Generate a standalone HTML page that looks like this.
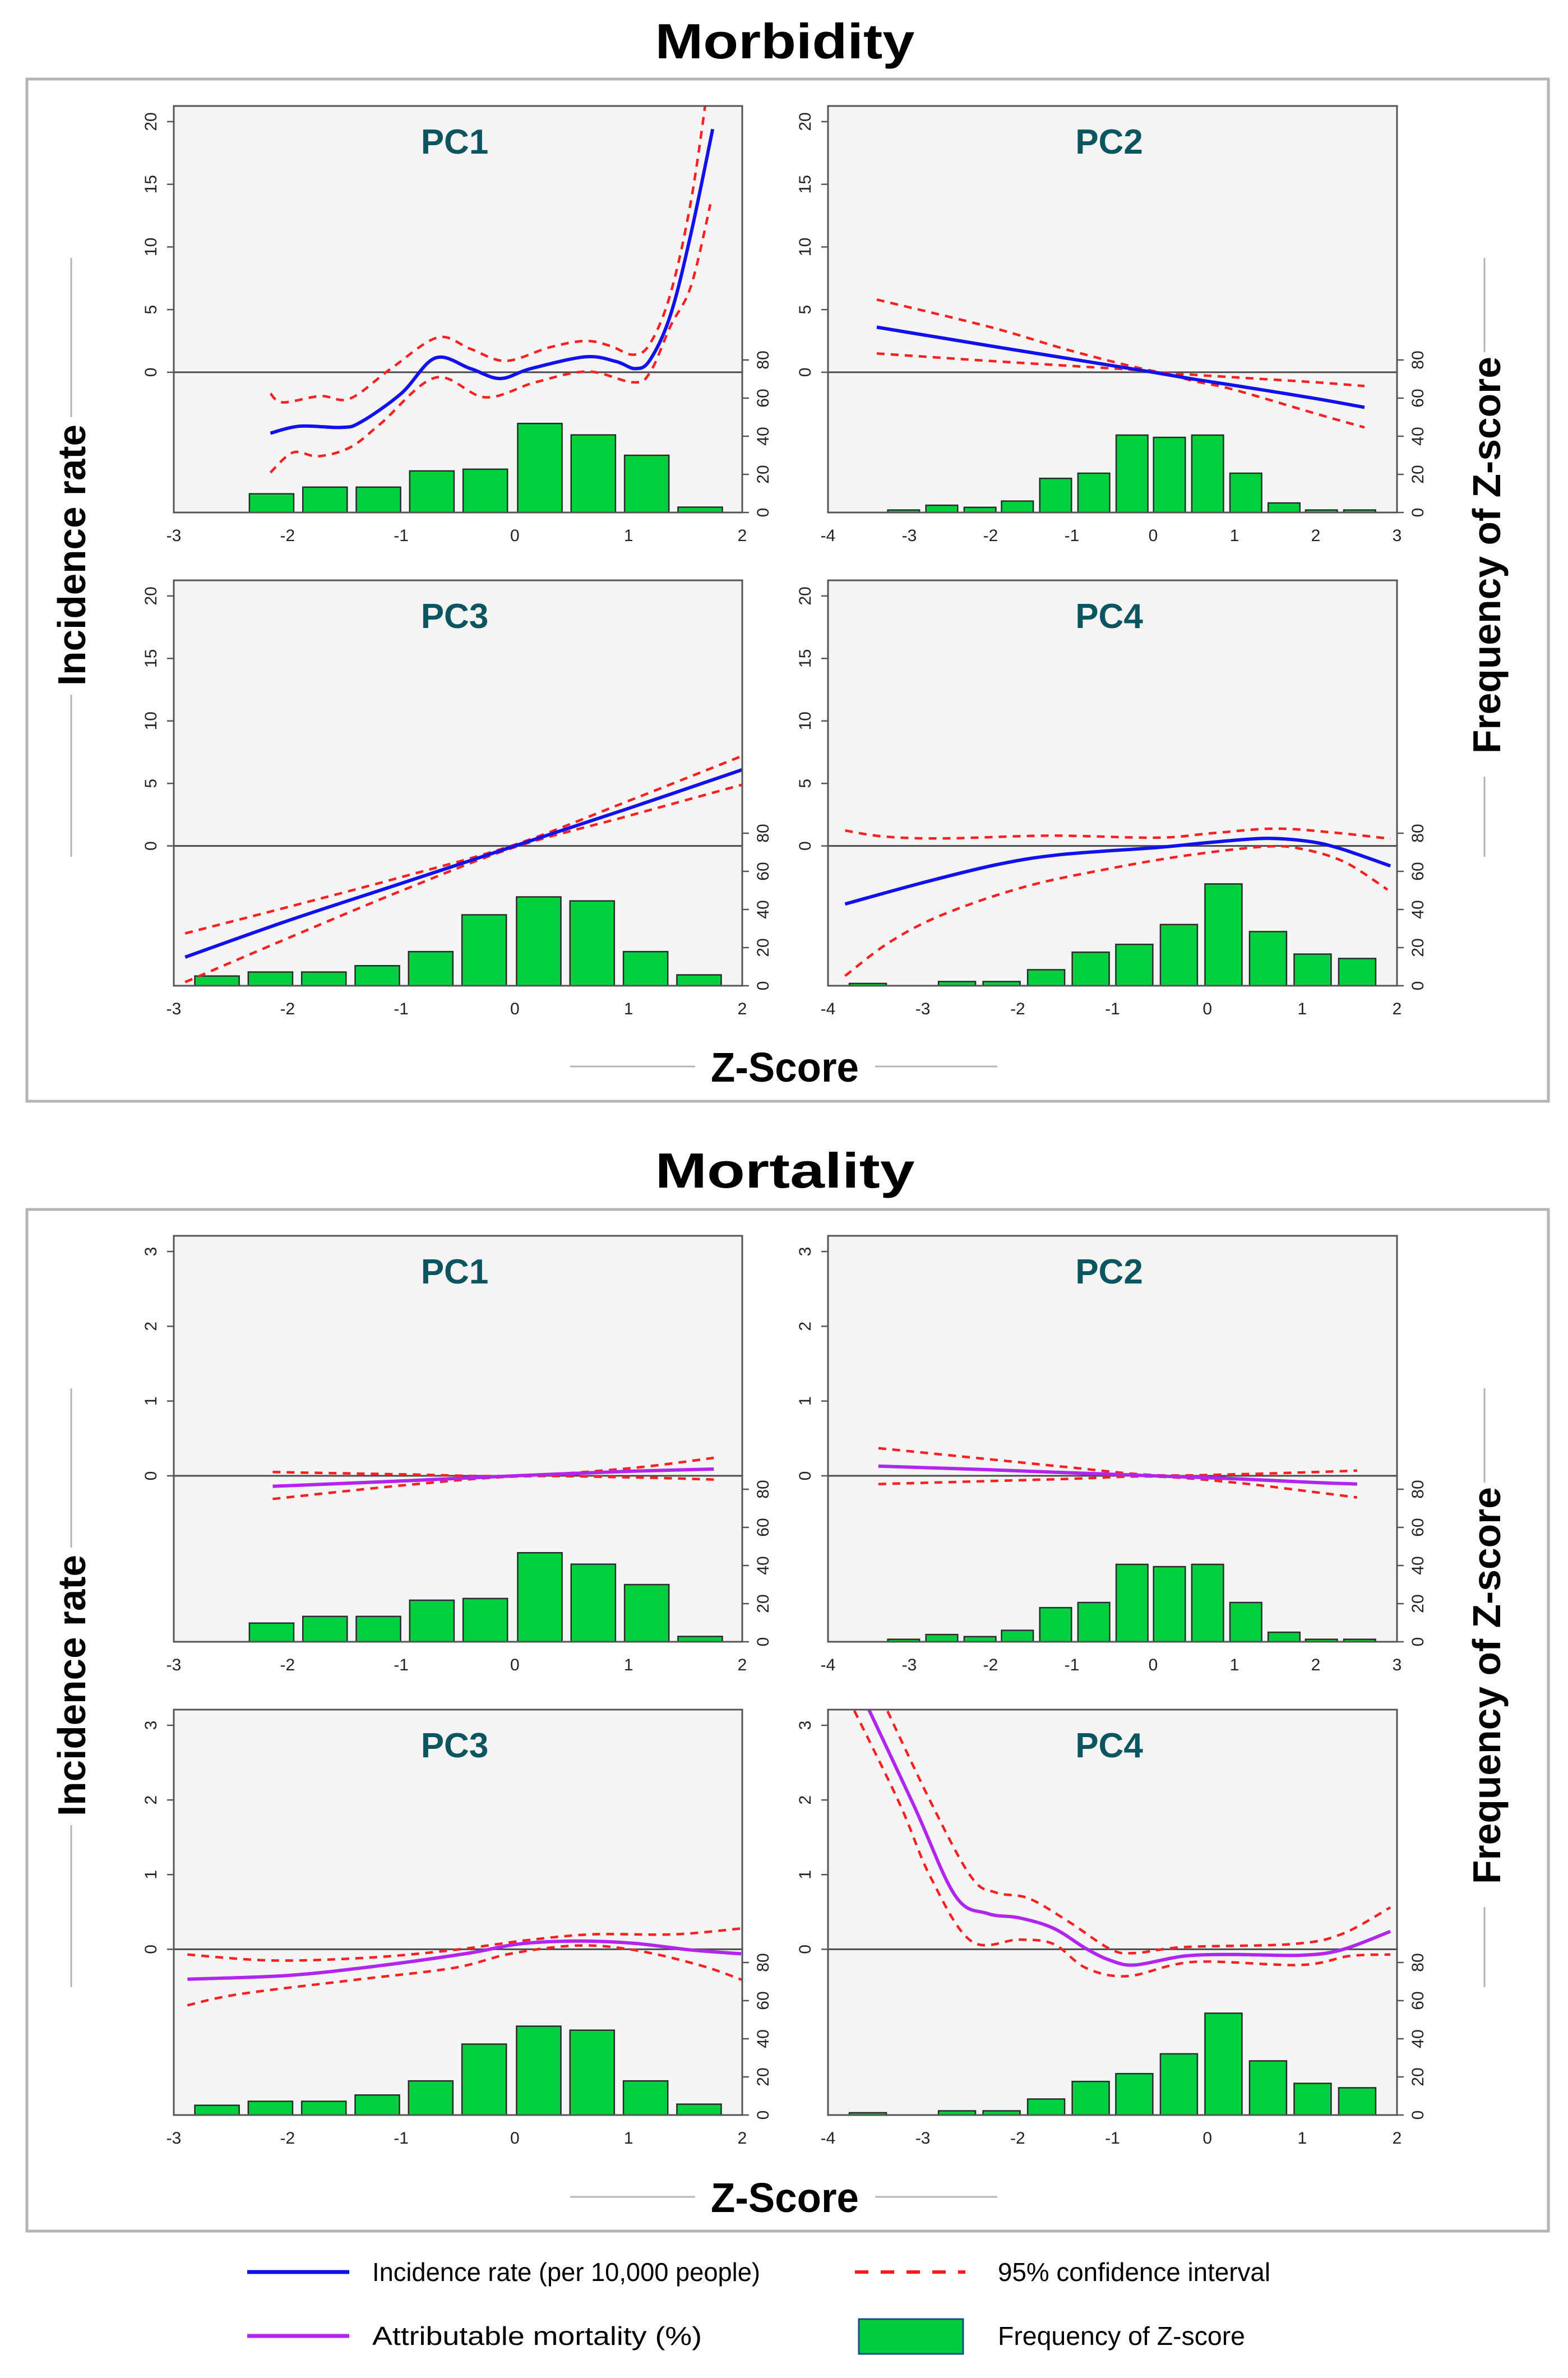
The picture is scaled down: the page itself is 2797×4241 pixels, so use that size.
<!DOCTYPE html>
<html><head><meta charset="utf-8"><style>
html,body{margin:0;padding:0;background:#fff}
svg{display:block}
text{font-family:"Liberation Sans",Arial,sans-serif}
</style></head><body>
<svg id="fig" xmlns="http://www.w3.org/2000/svg" width="2797" height="4241" viewBox="0 0 2797 4241">
<rect x="0" y="0" width="2797" height="4241" fill="#fff"/>
<!-- Section frames -->
<rect x="48" y="141" width="2714" height="1823" fill="none" stroke="#b4b4b4" stroke-width="5"/>
<rect x="48" y="2157" width="2714" height="1822" fill="none" stroke="#b4b4b4" stroke-width="5"/>
<text x="1400" y="104" text-anchor="middle" font-size="88" font-weight="bold" textLength="463" lengthAdjust="spacingAndGlyphs">Morbidity</text>
<text x="1400" y="2118" text-anchor="middle" font-size="88" font-weight="bold" textLength="463" lengthAdjust="spacingAndGlyphs">Mortality</text>
<g id="panels"></g>
<!-- axis titles -->
<g>
<line x1="1017" y1="1902" x2="1240" y2="1902" stroke="#b4b4b4" stroke-width="3"/>
<line x1="1561" y1="1902" x2="1779" y2="1902" stroke="#b4b4b4" stroke-width="3"/>
<text x="1400" y="1929" text-anchor="middle" font-size="74" font-weight="bold" textLength="264" lengthAdjust="spacingAndGlyphs">Z-Score</text>
<line x1="127" y1="460" x2="127" y2="744" stroke="#b4b4b4" stroke-width="3"/>
<line x1="127" y1="1239" x2="127" y2="1528" stroke="#b4b4b4" stroke-width="3"/>
<text transform="translate(152,990) rotate(-90)" text-anchor="middle" font-size="70" font-weight="bold" textLength="466" lengthAdjust="spacingAndGlyphs">Incidence rate</text>
<line x1="2648" y1="460" x2="2648" y2="628" stroke="#b4b4b4" stroke-width="3"/>
<line x1="2648" y1="1385" x2="2648" y2="1528" stroke="#b4b4b4" stroke-width="3"/>
<text transform="translate(2676,990) rotate(-90)" text-anchor="middle" font-size="70" font-weight="bold" textLength="708" lengthAdjust="spacingAndGlyphs">Frequency of Z-score</text>
</g>
<g>
<line x1="1017" y1="3918" x2="1240" y2="3918" stroke="#b4b4b4" stroke-width="3"/>
<line x1="1561" y1="3918" x2="1779" y2="3918" stroke="#b4b4b4" stroke-width="3"/>
<text x="1400" y="3945" text-anchor="middle" font-size="74" font-weight="bold" textLength="264" lengthAdjust="spacingAndGlyphs">Z-Score</text>
<line x1="127" y1="2476" x2="127" y2="2760" stroke="#b4b4b4" stroke-width="3"/>
<line x1="127" y1="3255" x2="127" y2="3544" stroke="#b4b4b4" stroke-width="3"/>
<text transform="translate(152,3006) rotate(-90)" text-anchor="middle" font-size="70" font-weight="bold" textLength="466" lengthAdjust="spacingAndGlyphs">Incidence rate</text>
<line x1="2648" y1="2476" x2="2648" y2="2644" stroke="#b4b4b4" stroke-width="3"/>
<line x1="2648" y1="3401" x2="2648" y2="3544" stroke="#b4b4b4" stroke-width="3"/>
<text transform="translate(2676,3006) rotate(-90)" text-anchor="middle" font-size="70" font-weight="bold" textLength="708" lengthAdjust="spacingAndGlyphs">Frequency of Z-score</text>
</g>
<!-- legend -->
<g>
<g>
<line x1="441" y1="4052" x2="623" y2="4052" stroke="#1010e8" stroke-width="7"/>
<text x="664" y="4068" font-size="46" textLength="692" lengthAdjust="spacingAndGlyphs">Incidence rate (per 10,000 people)</text>
</g>
<g>
<line x1="1525" y1="4052" x2="1722" y2="4052" stroke="#ff1a1a" stroke-width="6" stroke-dasharray="24,22"/>
<text x="1780" y="4068" font-size="46" textLength="486" lengthAdjust="spacingAndGlyphs">95% confidence interval</text>
</g>
<g>
<line x1="441" y1="4166" x2="623" y2="4166" stroke="#b026f0" stroke-width="7"/>
<text x="664" y="4182" font-size="46" textLength="588" lengthAdjust="spacingAndGlyphs">Attributable mortality (%)</text>
</g>
<g>
<rect x="1532" y="4136" width="186" height="62" fill="#00cc3f" stroke="#1a4d8a" stroke-width="3"/>
<text x="1780" y="4182" font-size="46" textLength="441" lengthAdjust="spacingAndGlyphs">Frequency of Z-score</text>
</g>
</g>
</svg>
<script>
// ---- data ----
const histCentersPC1 = [-2.14,-1.67,-1.20,-0.73,-0.26,0.22,0.69,1.16,1.63];
const histValuesPC1 = [9.8,13.3,13.3,21.8,22.7,46.7,40.7,30,2.8];
const histCentersPC2 = [-3.07,-2.60,-2.13,-1.67,-1.20,-0.73,-0.26,0.20,0.67,1.14,1.61,2.07,2.54];
const histValuesPC2 = [1.3,3.8,2.7,6,17.9,20.6,40.6,39.4,40.6,20.6,5,1.3,1.3];
const histCentersPC3 = [-2.62,-2.15,-1.68,-1.21,-0.74,-0.27,0.21,0.68,1.15,1.62];
const histValuesPC3 = [5.1,7.2,7.2,10.5,17.9,37.2,46.6,44.5,17.9,5.7];
const histCentersPC4 = [-3.58,-3.11,-2.64,-2.17,-1.70,-1.23,-0.77,-0.30,0.17,0.64,1.11,1.58];
const histValuesPC4 = [1.2,0,2.2,2.2,8.4,17.6,21.7,32.1,53.4,28.4,16.6,14.3];

const morbYTicks = [0,5,10,15,20];
const mortYTicks = [0,1,2,3];
const histTicks = [0,20,40,60,80];
const xTicks3 = [-3,-2,-1,0,1,2];
const xTicks4a = [-4,-3,-2,-1,0,1,2,3];
const xTicks4b = [-4,-3,-2,-1,0,1,2];

// morbidity PC1
const mb1X = [-2.15,-1.89,-1.53,-1.36,-1.0,-0.70,-0.39,-0.13,0.14,0.62,0.89,1.06,1.19,1.37,1.55,1.74];
const mb1Fit = [-4.86,-4.3,-4.4,-4.0,-1.7,1.14,0.29,-0.5,0.29,1.23,0.86,0.29,1.0,4.6,11.1,19.4];
const mb1UX = [-2.15,-2.04,-1.71,-1.45,-1.09,-0.68,-0.39,-0.08,0.31,0.62,0.84,1.04,1.19,1.37,1.55,1.70];
const mb1Up = [-1.7,-2.4,-1.9,-2.1,0.29,2.77,1.86,0.91,2.0,2.5,2.1,1.4,2.3,6.3,13.7,23.0];
const mb1LX = [-2.15,-1.95,-1.73,-1.45,-1.18,-0.70,-0.26,0.18,0.64,1.04,1.19,1.37,1.55,1.72];
const mb1Lo = [-8.0,-6.4,-6.7,-6.0,-4.1,-0.43,-2.0,-0.8,0.06,-0.8,0,3.7,6.9,13.4];
// morbidity PC2
const mb2X = [-3.4,-2,-1,0,0.5,1,2,2.6];
const mb2Fit = [3.6,2.1,1.05,0,-0.55,-1.05,-2.1,-2.8];
const mb2Up = [5.8,3.6,1.7,0.1,-0.2,-0.4,-0.8,-1.1];
const mb2Lo = [1.5,0.9,0.5,0.05,-0.7,-1.4,-3.3,-4.4];
// morbidity PC3
const mb3X = [-2.9,-2,-1,0,1,2];
const mb3Fit = [-8.9,-6.0,-3.0,0,3.0,6.1];
const mb3Up = [-7.0,-4.9,-2.5,0.1,3.6,7.2];
const mb3Lo = [-10.9,-7.4,-3.6,-0.1,2.4,4.9];
// morbidity PC4
const mb4X = [-3.82,-3.01,-2.22,-1.55,-0.53,0.03,0.6,1.05,1.39,1.93];
const mb4Fit = [-4.65,-2.96,-1.5,-0.7,-0.13,0.28,0.6,0.38,-0.19,-1.6];
const mb4UX = [-3.82,-3.41,-2.79,-1.66,-0.53,0.03,0.71,1.33,1.93];
const mb4Up = [1.23,0.75,0.6,0.82,0.66,1.0,1.38,1.07,0.57];
const mb4LX = [-3.82,-3.35,-2.79,-1.94,-1.09,-0.25,0.6,1.0,1.45,1.9];
const mb4Lo = [-10.4,-7.7,-5.5,-3.3,-1.9,-0.8,-0.06,-0.25,-1.3,-3.5];

// mortality PC1
const mt1X = [-2.13,-1,0,1,1.75];
const mt1Fit = [-0.14,-0.07,0,0.06,0.09];
const mt1Up = [0.05,0.02,0,0.1,0.24];
const mt1Lo = [-0.31,-0.13,-0.01,-0.02,-0.05];
// mortality PC2
const mt2X = [-3.38,-2,-1,0,1,2,2.51];
const mt2Fit = [0.13,0.08,0.04,0,-0.04,-0.09,-0.11];
const mt2Up = [0.37,0.22,0.11,0.01,0.02,0.05,0.07];
const mt2Lo = [-0.11,-0.07,-0.04,-0.01,-0.09,-0.22,-0.29];
// mortality PC3
const mt3X = [-2.88,-1.99,-1.19,-0.40,0.03,0.54,1.05,1.55,1.99];
const mt3Fit = [-0.40,-0.35,-0.22,-0.05,0.07,0.11,0.08,-0.01,-0.06];
const mt3UX = [-2.88,-2.13,-1.27,-0.54,0.1,0.68,1.4,2.0];
const mt3Up = [-0.07,-0.15,-0.11,-0.01,0.12,0.2,0.2,0.28];
const mt3LX = [-2.88,-2.42,-1.41,-0.54,-0.04,0.54,1.05,1.62,2.0];
const mt3Lo = [-0.75,-0.6,-0.41,-0.25,-0.06,0.05,-0.01,-0.21,-0.41];
// mortality PC4
const mt4X = [-3.75,-3.1,-2.66,-2.32,-1.98,-1.62,-1.28,-1.02,-0.76,-0.24,0.28,0.98,1.41,1.93];
const mt4Fit = [3.7,1.94,0.72,0.48,0.42,0.28,0.01,-0.15,-0.21,-0.09,-0.07,-0.08,-0.01,0.24];
const mt4UX = [-3.56,-2.92,-2.49,-2.23,-1.88,-1.45,-1.02,-0.76,-0.24,0.89,1.41,1.93];
const mt4Up = [3.7,1.98,0.97,0.76,0.68,0.36,0,-0.05,0.03,0.07,0.2,0.56];
const mt4LX = [-3.92,-3.27,-2.92,-2.49,-1.98,-1.62,-1.28,-0.84,-0.15,0.98,1.5,1.93];
const mt4Lo = [3.7,2.02,0.97,0.11,0.13,0.07,-0.25,-0.36,-0.17,-0.21,-0.09,-0.07];

// ---- drawing ----
const NS = "http://www.w3.org/2000/svg";
const root = document.getElementById('panels');
function mk(tag, attrs, parent){
  const e = document.createElementNS(NS, tag);
  for (const k in attrs) e.setAttribute(k, attrs[k]);
  parent.appendChild(e);
  return e;
}
function smoothPath(xs, ys, sx, sy){
  const p = xs.map((x,i)=>[sx(x), sy(ys[i])]);
  let d = 'M' + p[0][0].toFixed(1) + ',' + p[0][1].toFixed(1);
  for (let i=0;i<p.length-1;i++){
    const p0 = p[i-1]||p[i], p1=p[i], p2=p[i+1], p3=p[i+2]||p[i+1];
    const c1x = p1[0]+(p2[0]-p0[0])/6, c1y = p1[1]+(p2[1]-p0[1])/6;
    const c2x = p2[0]-(p3[0]-p1[0])/6, c2y = p2[1]-(p3[1]-p1[1])/6;
    d += ' C'+c1x.toFixed(1)+','+c1y.toFixed(1)+' '+c2x.toFixed(1)+','+c2y.toFixed(1)+' '+p2[0].toFixed(1)+','+p2[1].toFixed(1);
  }
  return d;
}
let clipId = 0;
function panel(cfg){
  const g = mk('g', {}, root);
  
  
  const {x0,y0,w,h,xmin,xmax,ymin,ymax} = cfg;
  const sx = v => x0 + (v-xmin)/(xmax-xmin)*w;
  const sy = v => y0 + (ymax-v)/(ymax-ymin)*h;
  const hs = v => y0 + h - v*3.4;
  const bg = mk('rect', {x:x0,y:y0,width:w,height:h,fill:'#f5f5f5'}, g);
  
  
  const cid = 'clip'+(clipId++);
  const cp = mk('clipPath', {id:cid}, g);
  mk('rect', {x:x0,y:y0,width:w,height:h}, cp);
  // bars
  cfg.centers.forEach((c,i)=>{
    const v = cfg.values[i];
    if (v<=0) return;
    const b = mk('rect', {x:sx(c-0.195), y:hs(v), width:sx(c+0.195)-sx(c-0.195), height:v*3.4, fill:'#00cf40', stroke:'#2a2a2a', 'stroke-width':2.5}, g);
    
    
  });
  // zero line
  const zl = mk('line', {x1:x0,x2:x0+w,y1:sy(0),y2:sy(0),stroke:'#4a4a4a','stroke-width':3}, g);
  
  
  const cg = mk('g', {'clip-path':'url(#'+cid+')'}, g);
  cfg.ci.forEach(c=>{
    const p = mk('path', {d:smoothPath(c[0],c[1],sx,sy),fill:'none',stroke:'#ff2020','stroke-width':4.5,'stroke-dasharray':'14,11'}, cg);
    
    
  });
  const f = mk('path', {d:smoothPath(cfg.fitX,cfg.fit,sx,sy),fill:'none',stroke:cfg.color,'stroke-width':6}, cg);
  
  
  // border
  mk('rect', {x:x0,y:y0,width:w,height:h,fill:'none',stroke:'#555','stroke-width':3}, g);
  // title
  const t = mk('text', {x:x0+w/2-6, y:y0+85, 'text-anchor':'middle','font-size':62,'font-weight':'bold',fill:'#0a5560'}, g);
  
  
  t.textContent = cfg.title;
  // left y axis
  cfg.yticks.forEach(v=>{
    mk('line', {x1:x0-12,x2:x0,y1:sy(v),y2:sy(v),stroke:'#555','stroke-width':2.5}, g);
    const l = mk('text', {transform:'translate('+(x0-31)+','+sy(v)+') rotate(-90)','text-anchor':'middle','font-size':30,fill:'#222'}, g);
    
    
    l.textContent = v;
  });
  // right hist axis
  mk('line', {x1:x0+w,x2:x0+w,y1:hs(0),y2:hs(80),stroke:'#555','stroke-width':2.5}, g);
  histTicks.forEach(v=>{
    mk('line', {x1:x0+w,x2:x0+w+12,y1:hs(v),y2:hs(v),stroke:'#555','stroke-width':2.5}, g);
    const l = mk('text', {transform:'translate('+(x0+w+47)+','+hs(v)+') rotate(-90)','text-anchor':'middle','font-size':30,fill:'#222'}, g);
    
    
    l.textContent = v;
  });
  // x axis labels
  cfg.xticks.forEach(v=>{
    const l = mk('text', {x:sx(v), y:y0+h+51, 'text-anchor':'middle','font-size':30,fill:'#222'}, g);
    
    
    l.textContent = v;
  });
}
const MB = {ymin:-11.19, ymax:21.25};
const MT = {ymin:-2.22, ymax:3.21};
const BLUE = '#1010f0', PURPLE = '#b026f0';
const rows = [[189,725],[1035,723],[2204,724],[3049,723]];
const cols = [[310,1014],[1477,1015]];
function P(name,title,row,col,xmin,xmax,yr,yticks,xticks,centers,values,fitX,fit,ci,color){
  panel({name,title,x0:cols[col][0],w:cols[col][1],y0:rows[row][0],h:rows[row][1],xmin,xmax,ymin:yr.ymin,ymax:yr.ymax,yticks,xticks,centers,values,fitX,fit,ci,color});
}
P('morbidity-pc1','PC1',0,0,-3,2,MB,morbYTicks,xTicks3,histCentersPC1,histValuesPC1,mb1X,mb1Fit,[[mb1UX,mb1Up],[mb1LX,mb1Lo]],BLUE);
P('morbidity-pc2','PC2',0,1,-4,3,MB,morbYTicks,xTicks4a,histCentersPC2,histValuesPC2,mb2X,mb2Fit,[[mb2X,mb2Up],[mb2X,mb2Lo]],BLUE);
P('morbidity-pc3','PC3',1,0,-3,2,MB,morbYTicks,xTicks3,histCentersPC3,histValuesPC3,mb3X,mb3Fit,[[mb3X,mb3Up],[mb3X,mb3Lo]],BLUE);
P('morbidity-pc4','PC4',1,1,-4,2,MB,morbYTicks,xTicks4b,histCentersPC4,histValuesPC4,mb4X,mb4Fit,[[mb4UX,mb4Up],[mb4LX,mb4Lo]],BLUE);
P('mortality-pc1','PC1',2,0,-3,2,MT,mortYTicks,xTicks3,histCentersPC1,histValuesPC1,mt1X,mt1Fit,[[mt1X,mt1Up],[mt1X,mt1Lo]],PURPLE);
P('mortality-pc2','PC2',2,1,-4,3,MT,mortYTicks,xTicks4a,histCentersPC2,histValuesPC2,mt2X,mt2Fit,[[mt2X,mt2Up],[mt2X,mt2Lo]],PURPLE);
P('mortality-pc3','PC3',3,0,-3,2,MT,mortYTicks,xTicks3,histCentersPC3,histValuesPC3,mt3X,mt3Fit,[[mt3UX,mt3Up],[mt3LX,mt3Lo]],PURPLE);
P('mortality-pc4','PC4',3,1,-4,2,MT,mortYTicks,xTicks4b,histCentersPC4,histValuesPC4,mt4X,mt4Fit,[[mt4UX,mt4Up],[mt4LX,mt4Lo]],PURPLE);
</script>
</body></html>
